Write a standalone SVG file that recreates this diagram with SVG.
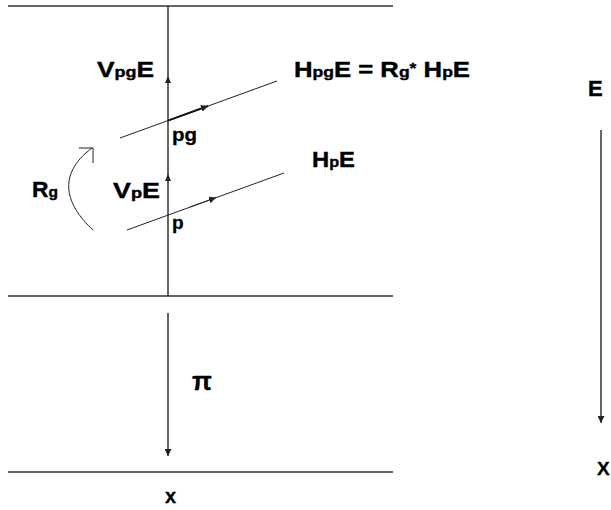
<svg xmlns="http://www.w3.org/2000/svg" width="611" height="510" viewBox="0 0 611 510">
<style>
.ln{stroke:#333;stroke-width:1.5;fill:none}
.th{stroke:#222;stroke-width:1;fill:none}
.b{font-family:"Liberation Sans",Arial,sans-serif;font-weight:bold;font-size:22px;fill:#000;stroke:#000;stroke-width:0.4}
.s{font-size:15px}
.m{font-family:"Liberation Sans",Arial,sans-serif;font-weight:bold;fill:#000;stroke:#000;stroke-width:0.3}
</style>
<defs>
<marker id="ah" viewBox="0 0 10 10" refX="10" refY="5" markerWidth="7" markerHeight="7" markerUnits="userSpaceOnUse" orient="auto">
<path d="M0,0 L10,5 L0,10 z" fill="#222"/>
</marker>
</defs>
<g id="boundaries">
<line class="ln" x1="8" y1="6" x2="393" y2="6"/>
<line class="ln" x1="8" y1="296" x2="393" y2="296"/>
<line class="ln" x1="8" y1="472" x2="393" y2="472"/>
</g>
<g id="connectors">
<line class="ln" x1="168" y1="6" x2="168" y2="296"/>
<path d="M165,83 L168,76 L171,83 z" fill="#222"/>
<path d="M165,181 L168,174 L171,181 z" fill="#222"/>
<line class="th" x1="120" y1="138" x2="277" y2="81"/>
<line x1="168" y1="120.6" x2="208" y2="106" stroke="#111" stroke-width="2" marker-end="url(#ah)"/>
<line class="th" x1="127" y1="230" x2="284" y2="173"/>
<line class="th" x1="190" y1="207" x2="216" y2="197.6" marker-end="url(#ah)"/>
<path class="th" d="M93,230 C66,205 56,175 92,148"/>
<path class="th" d="M79,148 L93,148 L93,163"/>
<line class="ln" x1="168" y1="313" x2="168" y2="456" marker-end="url(#ah)"/>
<line class="ln" x1="601" y1="130" x2="601" y2="423" marker-end="url(#ah)"/>
</g>
<g id="labels">
<text class="b" x="97" y="77" textLength="57" lengthAdjust="spacingAndGlyphs">V<tspan class="s">pg</tspan>E</text>
<text class="b" x="294" y="77" textLength="176" lengthAdjust="spacingAndGlyphs">H<tspan class="s">pg</tspan>E = R<tspan class="s">g</tspan><tspan class="s" dy="-4">*</tspan><tspan dy="4"> H</tspan><tspan class="s">p</tspan>E</text>
<text class="m" x="172" y="141" font-size="19" textLength="25" lengthAdjust="spacingAndGlyphs">pg</text>
<text class="b" x="113" y="198" textLength="47" lengthAdjust="spacingAndGlyphs">V<tspan class="s">p</tspan>E</text>
<text class="m" x="172" y="229" font-size="19">p</text>
<text class="b" x="32" y="197" textLength="26" lengthAdjust="spacingAndGlyphs">R<tspan class="s">g</tspan></text>
<text class="b" x="312" y="167" textLength="43" lengthAdjust="spacingAndGlyphs">H<tspan class="s">p</tspan>E</text>
<text class="b" x="588" y="96" font-size="23">E</text>
<text class="m" x="597" y="475" font-size="19">X</text>
<text class="m" x="192" y="390" font-size="26">π</text>
<text class="m" x="165" y="503" font-size="20">x</text>
</g>
</svg>
